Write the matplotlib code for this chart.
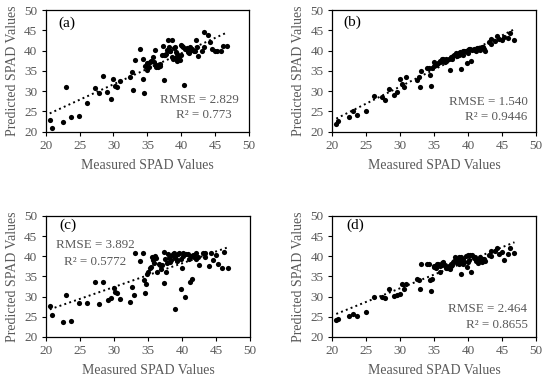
import numpy as np
import matplotlib
matplotlib.use("Agg")
import matplotlib.pyplot as plt

plt.rcParams['font.family'] = ['Liberation Serif', 'DejaVu Serif']

# measured SPAD values (shared by all four models)
measured = [20.6, 20.9, 22.5, 23.0, 23.7, 24.9, 26.1, 27.3, 27.8, 28.4,
            29.1, 29.6, 30.0, 30.2, 30.5, 30.9, 32.4, 32.7, 32.9, 33.1,
            33.9, 34.3, 34.4, 34.5, 34.7, 34.9, 35.0, 35.4, 35.6, 35.9,
            36.1, 36.3, 36.6, 36.9, 37.3, 37.4, 37.6, 37.8, 38.1, 38.3,
            38.6, 38.7, 38.9, 39.1, 39.2, 39.4, 39.8, 40.0, 40.2, 40.4,
            40.9, 41.2, 41.5, 41.8, 42.1, 42.3, 42.5, 43.1, 43.3, 43.4,
            44.0, 44.3, 44.5, 45.0, 45.2, 45.8, 46.2, 46.8,
            35.3, 35.8, 36.2, 36.8, 37.1, 37.5, 37.9, 38.2, 38.4, 38.8,
            39.0, 39.3, 39.6, 39.9, 40.1, 40.6, 41.0, 41.3, 41.6, 42.0]

pred_a = [22.9, 21.0, 22.3, 30.9, 23.5, 23.9, 27.1, 30.7, 29.6, 33.7,
          29.8, 28.0, 32.9, 31.3, 31.0, 32.4, 33.6, 34.8, 30.3, 37.7,
          40.3, 37.9, 33.0, 29.6, 36.2, 35.2, 36.9, 37.3, 37.5, 37.1,
          40.1, 35.9, 35.9, 36.3, 41.2, 32.7, 39.0, 39.2, 42.6, 40.0,
          38.5, 42.6, 40.6, 38.2, 39.6, 39.2, 37.7, 41.4, 41.0, 31.5,
          40.6, 39.4, 40.1, 39.8, 42.6, 41.0, 38.7, 39.8, 44.6, 41.0,
          43.9, 42.0, 40.3, 39.8, 39.8, 39.8, 41.2, 41.2,
          36.0, 38.5, 36.5, 36.8, 39.0, 38.8, 40.2, 41.0, 39.8, 38.0,
          40.9, 37.5, 38.4, 39.0, 41.1, 40.4, 39.7, 40.8, 40.5, 40.0]

pred_b = [22.0, 22.6, 23.7, 25.1, 24.0, 25.1, 28.9, 28.5, 27.8, 30.4,
          29.0, 29.9, 33.0, 31.7, 30.9, 33.6, 32.7, 33.6, 30.9, 35.0,
          35.6, 35.8, 34.0, 31.3, 35.6, 37.3, 36.3, 36.8, 37.0, 37.5,
          37.8, 38.0, 37.3, 37.6, 35.2, 38.4, 38.0, 38.6, 39.0, 39.2,
          38.8, 39.4, 35.5, 39.5, 38.9, 39.8, 36.9, 40.2, 40.5, 37.5,
          40.3, 40.0, 40.6, 40.2, 41.0, 40.4, 39.8, 42.0, 42.8, 41.6,
          42.4, 43.6, 42.9, 42.6, 43.3, 43.0, 44.4, 42.7,
          36.5, 37.2, 37.4, 37.9, 37.8, 38.2, 38.9, 39.3, 38.7, 39.6,
          39.1, 39.9, 40.0, 39.5, 40.4, 40.2, 40.1, 40.6, 40.4, 41.0]

pred_c = [27.7, 25.5, 23.7, 30.3, 24.0, 28.4, 28.4, 33.6, 28.1, 33.7,
          29.1, 29.7, 32.2, 31.2, 31.0, 29.3, 28.6, 32.5, 30.5, 40.7,
          38.8, 40.8, 34.2, 30.8, 33.2, 35.7, 36.0, 37.3, 39.8, 38.3,
          40.0, 36.0, 38.0, 36.8, 41.1, 33.3, 36.0, 38.4, 39.5, 40.1,
          40.6, 40.3, 26.8, 40.3, 39.1, 40.5, 32.0, 37.1, 40.7, 29.8,
          40.5, 33.6, 34.4, 39.8, 40.8, 39.9, 37.8, 40.7, 40.9, 39.9,
          37.5, 40.8, 39.2, 40.2, 38.2, 37.2, 41.1, 37.0,
          37.0, 39.0, 39.5, 37.8, 37.9, 39.3, 40.6, 38.7, 39.2, 40.8,
          39.6, 38.9, 40.8, 39.4, 40.0, 40.6, 39.3, 40.0, 40.3, 39.3]

pred_d = [24.1, 24.5, 25.2, 25.6, 25.3, 26.1, 30.0, 30.0, 29.6, 32.0,
          30.1, 30.4, 30.7, 33.2, 32.0, 33.2, 34.3, 34.0, 32.0, 38.2,
          38.2, 38.2, 34.0, 31.3, 34.3, 37.4, 37.6, 38.0, 38.1, 36.2,
          38.4, 38.6, 37.9, 37.0, 36.9, 37.5, 37.8, 38.5, 39.7, 38.8,
          38.2, 39.9, 35.6, 38.4, 39.4, 38.5, 37.4, 40.2, 40.3, 36.2,
          39.5, 38.8, 38.4, 39.8, 39.4, 39.3, 38.9, 40.4, 41.2, 40.1,
          41.3, 42.0, 40.6, 41.0, 39.0, 40.6, 42.0, 40.8,
          37.2, 37.5, 37.8, 37.0, 37.6, 38.0, 38.9, 38.5, 39.2, 38.8,
          39.9, 38.0, 40.0, 38.6, 39.0, 40.2, 39.8, 39.1, 38.9, 38.6]

panels = ['(a)', '(b)', '(c)', '(d)']
rmse_txt = ['RMSE = 2.829', 'RMSE = 1.540', 'RMSE = 3.892', 'RMSE = 2.464']
r2_txt = ['R² = 0.773', 'R² = 0.9446', 'R² = 0.5772', 'R² = 0.8655']

gray = '#595959'
fig = plt.figure(figsize=(5.5, 3.85), dpi=100)
rects = [[0.083, 0.658, 0.370, 0.316], [0.604, 0.658, 0.371, 0.316],
         [0.083, 0.125, 0.372, 0.314], [0.604, 0.125, 0.371, 0.314]]
# label positions in data units
lab_pos = [(21.9, 46.7), (21.6, 47.1), (22.0, 47.7), (22.1, 47.7)]
rmse_pos = [(48.4, 27.8, 'right'), (48.7, 27.2, 'right'),
            (27.3, 42.9, 'center'), (48.7, 26.8, 'right')]
r2_pos = [(47.4, 24.0, 'right'), (48.7, 23.7, 'right'),
          (27.3, 38.6, 'center'), (48.7, 22.9, 'right')]

x = np.array(measured)
for i, pred in enumerate([pred_a, pred_b, pred_c, pred_d]):
    y = np.array(pred)
    ax = fig.add_axes(rects[i])
    ax.scatter(x, y, s=14, color='black', zorder=3, linewidths=0)
    k, b = np.polyfit(x, y, 1)
    xl = np.array([x.min(), x.max()])
    ax.plot(xl, k * xl + b, color='black', ls=':', lw=1.4, zorder=2)
    ax.set_xlim(20, 50)
    ax.set_ylim(20, 50)
    ax.set_xticks(np.arange(20, 51, 5))
    ax.set_yticks(np.arange(20, 51, 5))
    ax.tick_params(direction='out', length=3, width=0.8, labelsize=9.5,
                   labelcolor=gray, pad=3)
    for sp in ax.spines.values():
        sp.set_linewidth(0.9)
    ax.set_xlabel('Measured SPAD Values', fontsize=10, color=gray, labelpad=5)
    ax.set_ylabel('Predicted SPAD Values', fontsize=10, color=gray, labelpad=4)
    ax.text(lab_pos[i][0], lab_pos[i][1], panels[i], fontsize=11,
            ha='left', va='center', color='black')
    ax.text(rmse_pos[i][0], rmse_pos[i][1], rmse_txt[i], fontsize=9.4,
            ha=rmse_pos[i][2], va='center', color=gray)
    ax.text(r2_pos[i][0], r2_pos[i][1], r2_txt[i], fontsize=9.4,
            ha=r2_pos[i][2], va='center', color=gray)

fig.savefig('out.png', dpi=100)
